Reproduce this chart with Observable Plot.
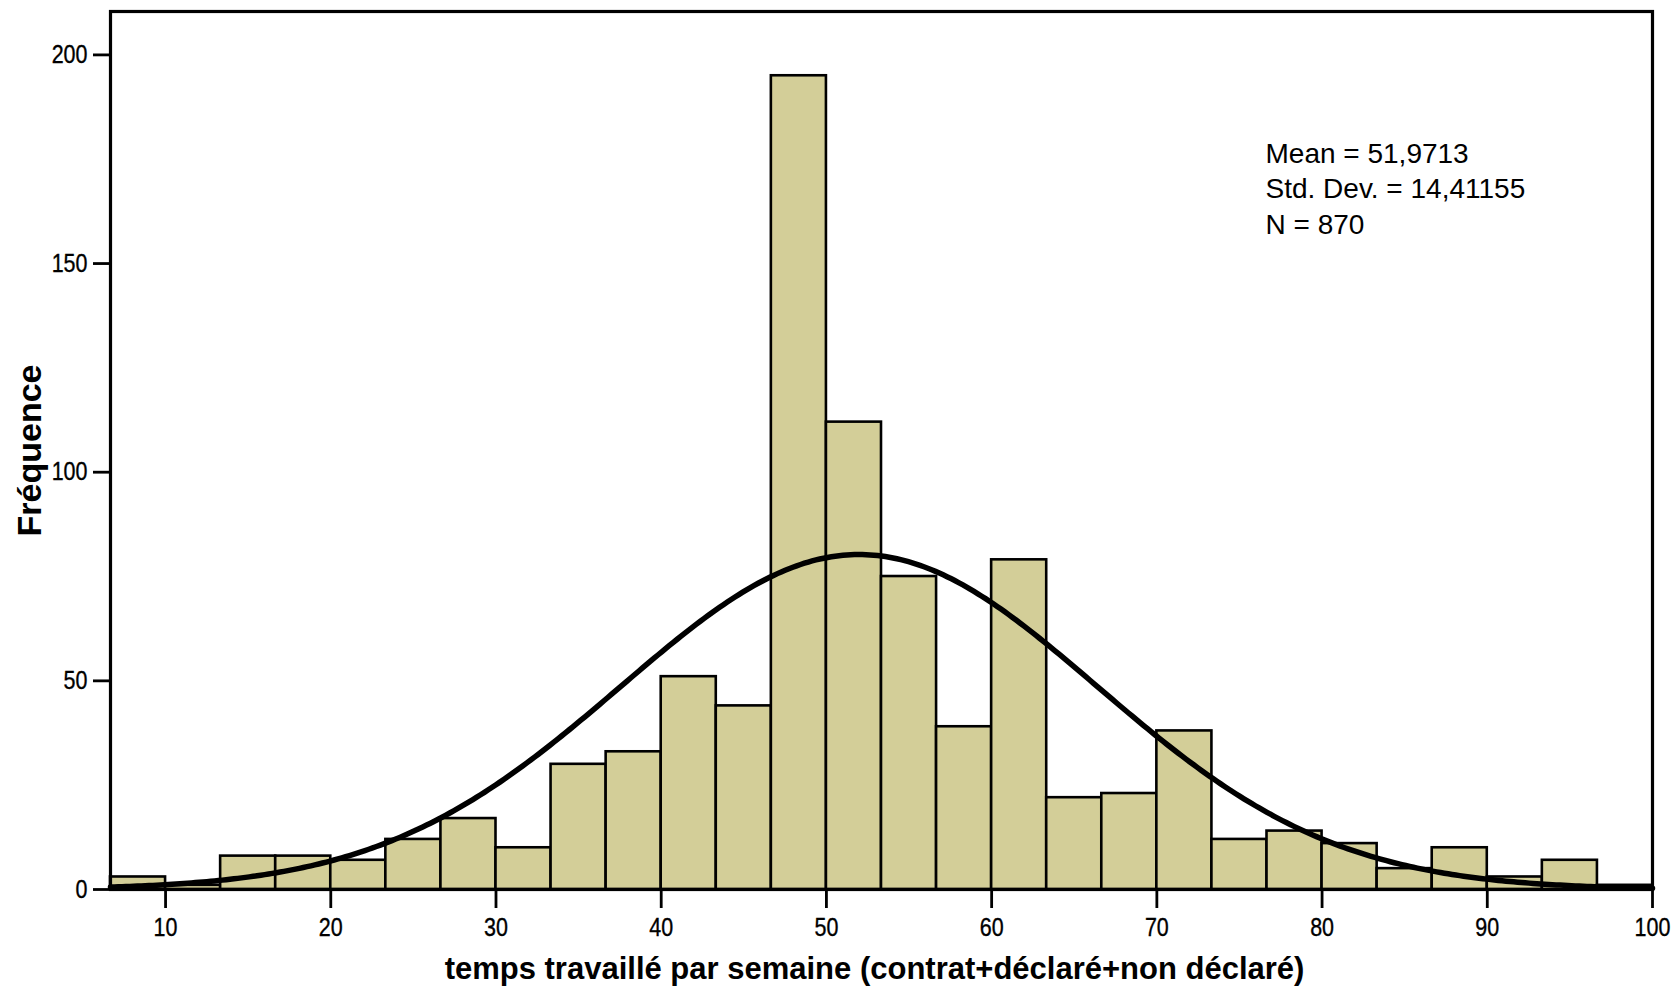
<!DOCTYPE html>
<html>
<head>
<meta charset="utf-8">
<script src="https://cdn.jsdelivr.net/npm/d3@7"></script>
<script src="https://cdn.jsdelivr.net/npm/@observablehq/plot@0.6"></script>
<style>
  html, body { margin: 0; padding: 0; background: #fff; }
  #chart svg { display: block; }
</style>
</head>
<body>
<div id="chart"></div>
<script>
// Bin edges (hours per week) and frequencies
const binEdges = [6.667, 10, 13.333, 16.667, 20, 23.333, 26.667, 30, 33.333, 36.667,
  40, 43.333, 46.667, 50, 53.333, 56.667, 60, 63.333, 66.667, 70,
  73.333, 76.667, 80, 83.333, 86.667, 90, 93.333, 96.667, 100];
const counts = [3, 1, 8, 8, 7, 12, 17, 10, 30, 33,
  51, 44, 195, 112, 75, 39, 79, 22, 23, 38,
  12, 14, 11, 5, 10, 3, 7, 1];
const xTicks = [10, 20, 30, 40, 50, 60, 70, 80, 90, 100];
const yTicks = [0, 50, 100, 150, 200];

// Printed statistics of the fitted normal curve
const mean = 51.9713;
const stdDev = 14.41155;
const n = 870;
const statsLines = ["Mean = 51,9713", "Std. Dev. = 14,41155", "N = 870"];

const xTitle = "temps travaillé par semaine (contrat+déclaré+non déclaré)";
const yTitle = "Fréquence";

const bins = counts.map((c, i) => ({x1: binEdges[i], x2: binEdges[i + 1], y: c}));
const binWidth = binEdges[1] - binEdges[0];
const xMin = binEdges[0], xMax = binEdges[binEdges.length - 1];
const curve = d3.range(0, 401).map(i => {
  const x = xMin + (xMax - xMin) * i / 400;
  const z = (x - mean) / stdDev;
  return {x, y: n * binWidth * Math.exp(-0.5 * z * z) / (stdDev * Math.sqrt(2 * Math.PI))};
});

const chart = Plot.plot({
  width: 1680,
  height: 988,
  marginLeft: 110,
  marginRight: 28,
  marginTop: 11,
  marginBottom: 99,
  style: {fontFamily: "Arial, 'Liberation Sans', sans-serif", color: "#000", background: "#fff"},
  x: {domain: [xMin, xMax]},
  y: {domain: [0, 210.4]},
  marks: [
    Plot.rectY(bins, {x1: "x1", x2: "x2", y: "y", fill: "#d3ce98", stroke: "#000", strokeWidth: 2.6}),
    Plot.line(curve, {x: "x", y: "y", stroke: "#000", strokeWidth: 5.5, curve: "linear"}),
    Plot.axisX({ticks: xTicks, tickSize: 19, tickPadding: 10, fontSize: 25, strokeWidth: 2.8, label: null, tickFormat: d => String(d)}),
    Plot.axisY({ticks: yTicks, tickSize: 17, tickPadding: 6, fontSize: 25, strokeWidth: 2.8, label: null, tickFormat: d => String(d)}),
    Plot.frame({stroke: "#000", strokeWidth: 3.2}),
    Plot.text([statsLines.join("\n")], {frameAnchor: "top-right", textAnchor: "start", lineAnchor: "top", dx: -387, dy: 126, fontSize: 28, lineHeight: 1.27, fill: "#000"}),
    Plot.text([xTitle], {frameAnchor: "bottom", textAnchor: "middle", dx: -7, dy: 89, fontSize: 31, fontWeight: "bold", fill: "#000"}),
    Plot.text([yTitle], {frameAnchor: "left", textAnchor: "middle", rotate: -90, dx: -80, fontSize: 34, fontWeight: "bold", fill: "#000"})
  ]
});

// Narrow the tick labels horizontally (tall, condensed glyphs as in the original)
chart.querySelectorAll('g[aria-label="x-axis tick label"] text, g[aria-label="y-axis tick label"] text').forEach(t => {
  t.style.fontSize = "25px";
  t.style.stroke = "#000";
  t.style.strokeWidth = "0.35px";
  const tr = t.getAttribute("transform");
  if (tr) {
    t.setAttribute("transform", tr + " scale(0.86,1)");
  } else {
    const x = +t.getAttribute("x") || 0, y = +t.getAttribute("y") || 0;
    t.removeAttribute("x"); t.removeAttribute("y");
    t.setAttribute("transform", `translate(${x},${y}) scale(0.86,1)`);
  }
});

document.getElementById("chart").appendChild(chart);
</script>
</body>
</html>
